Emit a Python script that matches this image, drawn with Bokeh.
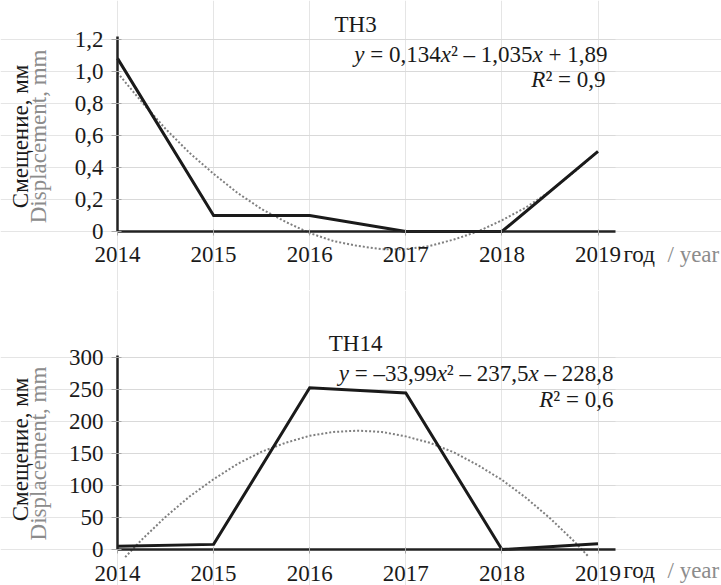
from math import pi
from bokeh.plotting import figure
from bokeh.layouts import column
from bokeh.models import Range1d, FixedTicker, Label, LinearAxis, Grid
from bokeh.embed import file_html
from bokeh.resources import INLINE

# ---------------- data ----------------
years = [2014, 2015, 2016, 2017, 2018, 2019]
year_labels = ["2014", "2015", "2016", "2017", "2018", "2019"]

th3_values = [1.08, 0.10, 0.10, 0.0, 0.0, 0.50]
th14_values = [5, 8, 253, 245, 0, 9]

th3_trend_years = [2014.0, 2014.25, 2014.5, 2014.75, 2015.0, 2015.25, 2015.5, 2015.75,
                   2016.0, 2016.25, 2016.5, 2016.75, 2017.0, 2017.25, 2017.5, 2017.75,
                   2018.0, 2018.25, 2018.5, 2018.75, 2019.0]
th3_trend = [0.99, 0.81, 0.64, 0.49, 0.36, 0.24, 0.14, 0.06, -0.01, -0.06, -0.09,
             -0.11, -0.11, -0.09, -0.05, 0.0, 0.07, 0.15, 0.25, 0.37, 0.50]
th14_trend_years = [2014.08, 2014.25, 2014.5, 2014.75, 2015.0, 2015.25, 2015.5, 2015.75,
                    2016.0, 2016.25, 2016.5, 2016.75, 2017.0, 2017.25, 2017.5, 2017.75,
                    2018.0, 2018.25, 2018.5, 2018.75, 2018.9]
th14_trend = [-12, 15, 51, 83, 110, 134, 153, 167, 178, 184, 186, 184, 177, 167,
              152, 132, 109, 81, 49, 13, -11]

th3_ticks = [0, 0.2, 0.4, 0.6, 0.8, 1.0, 1.2]
th3_tick_labels = ["0", "0,2", "0,4", "0,6", "0,8", "1,0", "1,2"]
th14_ticks = [0, 50, 100, 150, 200, 250, 300]
th14_tick_labels = ["0", "50", "100", "150", "200", "250", "300"]

NB = "\u00a0"
th3_title = "TH3"
th14_title = "TH14"
th3_eq = [("y", True), (NB + "=" + NB + "0,134", False), ("x", True),
          ("²" + NB + "–" + NB + "1,035", False), ("x", True), (NB + "+" + NB + "1,89", False)]
th3_r2 = [("R", True), ("²" + NB + "=" + NB + "0,9", False)]
th14_eq = [("y", True), (NB + "=" + NB + "–33,99", False), ("x", True),
           ("²" + NB + "–" + NB + "237,5", False), ("x", True), (NB + "–" + NB + "228,8", False)]
th14_r2 = [("R", True), ("²" + NB + "=" + NB + "0,6", False)]

ylabel_ru = "Смещение, мм"
ylabel_en = "Displacement, mm"
xlabel_ru = "год"
xlabel_en = "/ year"

# ---------------- style ----------------
FONT = "Liberation Serif, Times New Roman, Tinos, DejaVu Serif, serif"
FS = 23
BLACK = "#1a1a1a"
GREY = "#8c8c8c"
X0, X1 = 2014, 2019.18

REG = {",": 250, ".": 250, " ": 250, NB: 250, "=": 564, "+": 564, "–": 500, "²": 300}
ITA = {"x": 444, "y": 444, "R": 611}


def text_width(t, italic):
    tot = 0
    for ch in t:
        tot += (ITA if italic else REG).get(ch, 500)
    return tot * FS / 1000.0


def lab(p, x, y, text, color=BLACK, align="left", baseline="alphabetic", angle=0.0,
        style="normal", x_offset=0.0, font=FONT, size=FS):
    p.add_layout(Label(x=x, y=y, x_offset=x_offset, text=text, text_align=align,
                       text_baseline=baseline, angle=angle, text_font=font,
                       text_font_style=style, text_font_size=f"{size}px",
                       text_color=color))


def add_pieces(p, x_right, y, pieces):
    off = 0.0
    for t, it in reversed(pieces):
        lab(p, x_right, y, t, align="right", style="italic" if it else "normal",
            x_offset=-off)
        off += text_width(t, it)


def make_chart(values, tx, trend, ticks, tick_labels, xr, yr, axis_top, height, standoff):
    p = figure(width=721, height=height, x_range=Range1d(*xr), y_range=Range1d(*yr),
               x_axis_location=None, y_axis_location=None,
               output_backend="svg", toolbar_location=None,
               min_border=0, min_border_left=0, min_border_right=0,
               min_border_top=0, min_border_bottom=0)
    p.outline_line_color = None
    p.background_fill_color = "white"
    p.border_fill_color = "white"

    grid = Grid(dimension=1, ticker=FixedTicker(ticks=ticks[1:]),
                grid_line_color="#d9d9d9", grid_line_width=1)
    try:
        grid.cross_bounds = (X0, X1)
    except Exception:
        pass
    p.add_layout(grid)

    ya = LinearAxis(fixed_location=X0, bounds=(0, axis_top),
                    ticker=FixedTicker(ticks=ticks))
    ya.major_label_overrides = {t: l for t, l in zip(ticks, tick_labels)}
    ya.axis_line_color = "#222222"
    ya.axis_line_width = 2.5
    ya.major_tick_line_color = "#a6a6a6"
    ya.major_tick_out = 6
    ya.major_tick_in = 4
    ya.minor_tick_line_color = None
    ya.major_label_standoff = 8
    ya.major_label_text_font = FONT
    ya.major_label_text_font_size = f"{FS}px"
    ya.major_label_text_color = BLACK
    p.add_layout(ya, "left")

    xa = LinearAxis(fixed_location=0, bounds=(X0, X1), ticker=FixedTicker(ticks=years))
    xa.major_label_overrides = {t: l for t, l in zip(years, year_labels)}
    xa.axis_line_color = "#222222"
    xa.axis_line_width = 2.5
    xa.major_tick_line_color = "#a6a6a6"
    xa.major_tick_out = 4
    xa.major_tick_in = 2
    xa.minor_tick_line_color = None
    xa.major_label_standoff = standoff
    xa.major_label_text_font = FONT
    xa.major_label_text_font_size = f"{FS}px"
    xa.major_label_text_color = BLACK
    p.add_layout(xa, "below")

    p.line(tx, trend, line_color="#7f7f7f", line_width=2, line_dash="2 2")
    p.line(years, values, line_color="#1a1a1a", line_width=3, line_join="miter")
    return p


# top chart: image x = 117 + (X-2014)*96.1 ; image y = 231 - Y*160.3
p1 = make_chart(th3_values, th3_trend_years, th3_trend, th3_ticks, th3_tick_labels,
                (2012.7825, 2020.285), (-0.368, 1.441), 1.215, 290, 11)
lab(p1, 2016.477, 1.291, th3_title, align="center")
add_pieces(p1, 2019.099, 1.104, th3_eq)
add_pieces(p1, 2019.078, 0.948, th3_r2)
lab(p1, 2012.99, 0.593, ylabel_ru, align="center", baseline="middle", angle=pi / 2)
lab(p1, 2013.18, 0.593, ylabel_en, color=GREY, align="center", baseline="middle",
    angle=pi / 2)
lab(p1, 2019.265, -0.144, xlabel_ru)
lab(p1, 2019.723, -0.144, xlabel_en, color=GREY)

# bottom chart: image y = 549 - Y*0.639 (canvas starts at image y 290)
p2 = make_chart(th14_values, th14_trend_years, th14_trend, th14_ticks, th14_tick_labels,
                (2012.7825, 2020.285), (-56.34, 405.3), 303.6, 295, 13)
lab(p2, 2016.477, 322.4, th14_title, align="center")
add_pieces(p2, 2019.161, 275.4, th14_eq)
add_pieces(p2, 2019.161, 234.8, th14_r2)
lab(p2, 2012.99, 156.5, ylabel_ru, align="center", baseline="middle", angle=pi / 2)
lab(p2, 2013.18, 150.2, ylabel_en, color=GREY, align="center", baseline="middle",
    angle=pi / 2)
lab(p2, 2019.265, -32.8, xlabel_ru)
lab(p2, 2019.723, -32.8, xlabel_en, color=GREY)

layout = column(p1, p2, spacing=0)
open("out.html", "w").write(file_html(layout, INLINE))
